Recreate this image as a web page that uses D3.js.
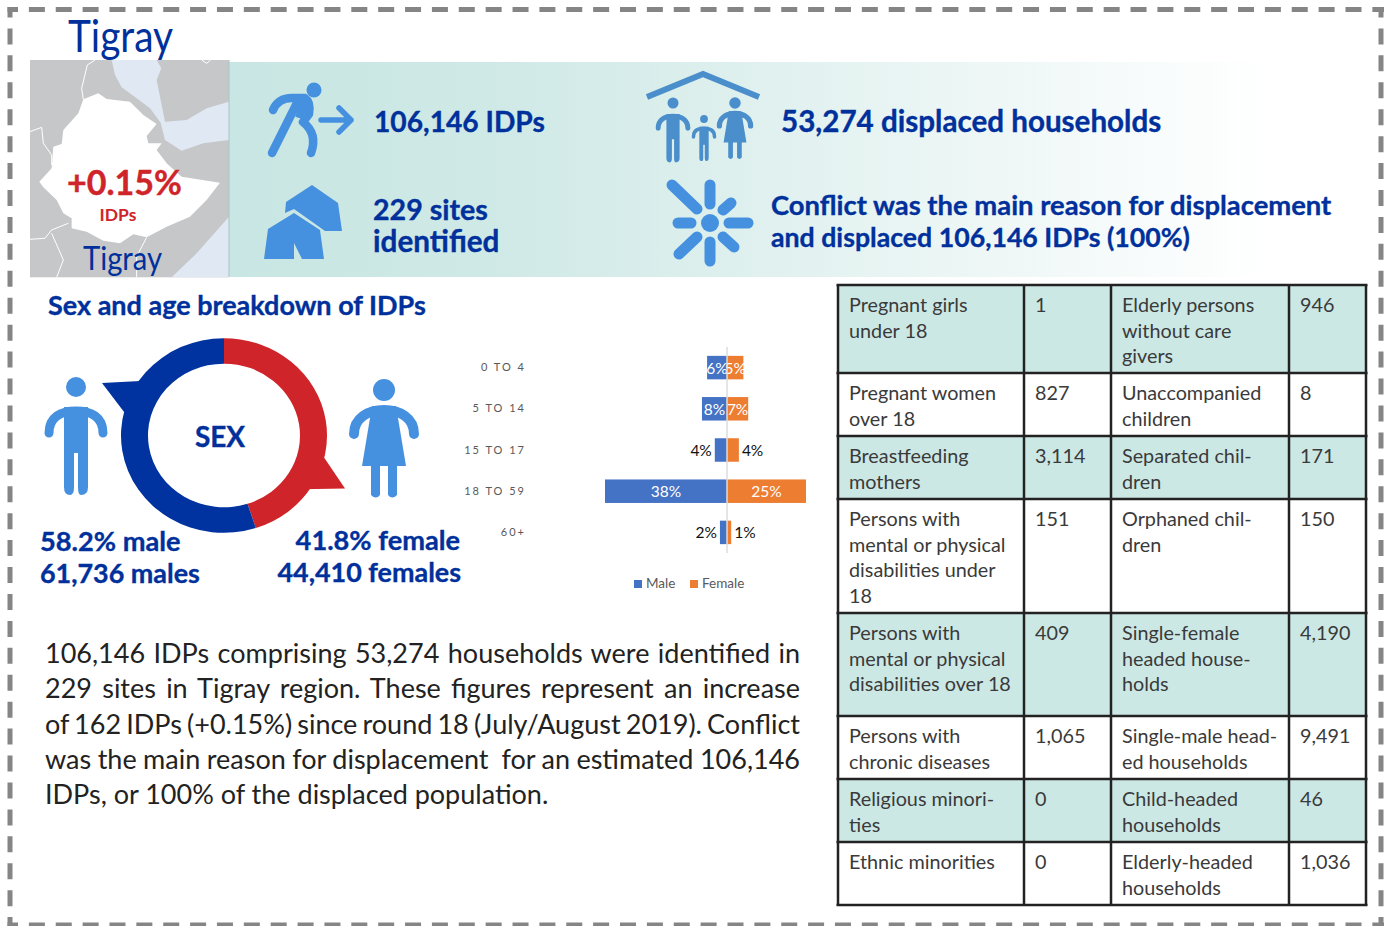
<!DOCTYPE html>
<html>
<head>
<meta charset="utf-8">
<title>Tigray</title>
<script src="https://cdn.jsdelivr.net/npm/d3@7"></script>
<style>
  body { margin: 0; background: #fff; }
  svg { display: block; }
  text { font-family: Lato, "Open Sans", sans-serif; }
  .head { fill: #00309b; font-weight: 700; stroke: #00309b; stroke-width: 0.35; }
</style>
</head>
<body>
<div id="graph"></div>
<script>
// age pyramid
const ageGroups = ['0 TO 4', '5 TO 14', '15 TO 17', '18 TO 59', '60+'];
const maleShare = [6.2, 7.8, 3.8, 38, 2.2];
const femaleShare = [5.1, 6.6, 3.7, 24.6, 1.3];

// ring as it is drawn (not quite the printed 58.2 / 41.8)
const ringLabels = ['female', 'male'];
const ringShare = [45, 55];
const ringColors = ['#cf242a', '#00339f'];

const paragraph = [
  '106,146 IDPs comprising 53,274 households were identified in',
  '229 sites in Tigray region. These figures represent an increase',
  'of 162 IDPs (+0.15%) since round 18 (July/August 2019). Conflict',
  'was the main reason for displacement  for an estimated 106,146',
  'IDPs, or 100% of the displaced population.'
];

const tableLeft = ['Pregnant girls\nunder 18', 'Pregnant women\nover 18', 'Breastfeeding\nmothers',
  'Persons with\nmental or physical\ndisabilities under\n18', 'Persons with\nmental or physical\ndisabilities over 18',
  'Persons with\nchronic diseases', 'Religious minori-\nties', 'Ethnic minorities'];
const tableLeftVal = ['1', '827', '3,114', '151', '409', '1,065', '0', '0'];
const tableRight = ['Elderly persons\nwithout care\ngivers', 'Unaccompanied\nchildren', 'Separated chil-\ndren',
  'Orphaned chil-\ndren', 'Single-female\nheaded house-\nholds', 'Single-male head-\ned households',
  'Child-headed\nhouseholds', 'Elderly-headed\nhouseholds'];
const tableRightVal = ['946', '8', '171', '150', '4,190', '9,491', '46', '1,036'];
const rowEdges = [285, 373, 436, 499, 613, 716, 779, 842, 905];
const colEdges = [838, 1024, 1111, 1289, 1366];

const navy = '#00309b', iconBlue = '#4591e0', famBlue = '#4a8ecb', red = '#cf242a';

const svg = d3.select('#graph').append('svg').attr('width', 1391).attr('height', 926);

drawBorder();
drawBand();
drawMap();
drawIcons();
drawHeadlines();
drawRing();
drawPyramid();
drawParagraph();
drawTable();

function drawBorder() {
  const across = [[7.5, 9.5, 1384, 9.5], [7.5, 925, 1384, 925]];
  const down = [[10, 7, 10, 926], [1381, 7, 1381, 926]];
  const edge = (data, dash) => svg.selectAll(null).data(data).enter().append('line')
    .attr('x1', d => d[0]).attr('y1', d => d[1]).attr('x2', d => d[2]).attr('y2', d => d[3])
    .attr('stroke', '#858585').attr('stroke-width', 5)
    .attr('stroke-dasharray', dash).attr('stroke-dashoffset', 5.5);
  edge(across, '16 10.87');
  edge(down, '16 10.93');
}

function drawBand() {
  const grad = svg.append('defs').append('linearGradient').attr('id', 'band');
  grad.append('stop').attr('offset', 0).attr('stop-color', '#c8e6e3');
  grad.append('stop').attr('offset', 0.25).attr('stop-color', '#cfe9e6');
  grad.append('stop').attr('offset', 1).attr('stop-color', '#ffffff');
  svg.append('rect').attr('x', 229).attr('y', 62).attr('width', 1040).attr('height', 215).attr('fill', 'url(#band)');
}

function drawMap() {
  const g = svg.append('g').attr('transform', 'scale(0.3333)');
  g.append('rect').attr('x', 90).attr('y', 180).attr('width', 597).attr('height', 652).attr('fill', '#c6c7c8');
  // red sea, gulf of aden, indian ocean
  g.append('path').attr('fill', '#e0e8f4')
    .attr('d', 'M335,180 L470,180 L484,205 L470,240 L482,300 L495,365 L560,360 L620,325 L687,305 L687,420 L610,430 L545,452 L495,420 L482,368 L450,325 L410,295 L365,262 L345,225 Z');
  g.append('path').attr('fill', '#e0e8f4').attr('d', 'M515,832 L590,760 L687,650 L687,832 Z');
  // ethiopia
  g.append('path').attr('fill', '#fff')
    .attr('d', 'M118,545 L155,505 L160,440 L185,432 L190,390 L235,340 L250,298 L295,280 L320,297 L390,305 L430,345 L470,372 L440,408 L445,430 L485,430 L470,450 L500,490 L545,530 L660,548 L620,600 L570,650 L500,680 L440,712 L400,703 L360,730 L310,722 L260,695 L215,685 L215,655 L190,640 L170,600 L130,562 Z');
  // borders
  const lines = ['M285,180 L262,195 L245,265 L250,298', 'M90,395 L125,382 L130,430 L155,465 L155,495',
    'M90,718 L135,715 L155,690 L205,670', 'M155,700 L190,780 L170,832', 'M440,712 L410,770 L410,832', 'M605,180 L620,190 L632,180'];
  g.selectAll('.border').data(lines).enter().append('path')
    .attr('d', d => d).attr('fill', 'none').attr('stroke', '#fff').attr('stroke-width', 3);
  svg.append('line').attr('x1', 229).attr('x2', 229).attr('y1', 60).attr('y2', 277).attr('stroke', '#a9c4c3').attr('stroke-width', 1);

  svg.append('text').attr('x', 68).attr('y', 52).attr('font-size', 44).attr('fill', navy)
    .attr('textLength', 105).attr('lengthAdjust', 'spacingAndGlyphs').text('Tigray');
  svg.append('text').attr('x', 67).attr('y', 195).attr('font-size', 34).attr('font-weight', 700)
    .attr('fill', red).attr('stroke', red).attr('stroke-width', 0.4).text('+0.15%');
  svg.append('text').attr('x', 118).attr('y', 221).attr('text-anchor', 'middle').attr('font-size', 17.5).attr('font-weight', 700).attr('fill', red).text('IDPs');
  svg.append('text').attr('x', 83).attr('y', 270).attr('font-size', 33).attr('fill', navy)
    .attr('textLength', 79).attr('lengthAdjust', 'spacingAndGlyphs').text('Tigray');
}

// both people are drawn around the middle of the head, then scaled
function person(x, y, k, color) {
  const g = svg.append('g').attr('transform', 'translate(' + x + ',' + y + ') scale(' + k + ')').attr('fill', color);
  g.append('circle').attr('r', 10);
  g.append('path').attr('fill', 'none').attr('stroke', color).attr('stroke-width', 9).attr('stroke-linecap', 'round')
    .attr('d', 'M-27,46 C-27,30 -15,24 0,24 C15,24 27,30 27,46');
  g.append('path').attr('d', 'M-12,20 L12,20 L12,100 Q12,108 5,108 Q2,108 2,100 L2,66 L-2,66 L-2,100 Q-2,108 -6,108 Q-12,108 -12,100 Z');
}

function woman(x, y, k, color) {
  const g = svg.append('g').attr('transform', 'translate(' + x + ',' + y + ') scale(' + k + ')').attr('fill', color);
  g.append('circle').attr('r', 11);
  g.append('path').attr('fill', 'none').attr('stroke', color).attr('stroke-width', 10).attr('stroke-linecap', 'round')
    .attr('d', 'M-30,44 C-30,28 -16,20 0,20 C16,20 30,28 30,44');
  g.append('path').attr('d', 'M-12,16 L12,16 L22,76 L-22,76 Z');
  g.append('path').attr('d', 'M-13,70 L-4,70 L-4,105 Q-8,110 -13,105 Z M4,70 L13,70 L13,105 Q8,110 4,105 Z');
}

function drawIcons() {
  // runner
  svg.append('circle').attr('cx', 314).attr('cy', 90).attr('r', 7.5).attr('fill', iconBlue);
  svg.append('path').attr('fill', 'none').attr('stroke', iconBlue).attr('stroke-width', 8.5).attr('stroke-linecap', 'round').attr('stroke-linejoin', 'round')
    .attr('d', 'M273,110 Q278,98 292,98 L305,98 Q311,102 309,114 L303,122 Q318,134 311,153 M298,101 L272,153');
  svg.append('path').attr('fill', 'none').attr('stroke', iconBlue).attr('stroke-width', 8).attr('d', 'M305,100 L299,118');
  svg.append('path').attr('fill', 'none').attr('stroke', iconBlue).attr('stroke-width', 5.5).attr('stroke-linecap', 'round').attr('stroke-linejoin', 'round')
    .attr('d', 'M321,120 L351,120 M339,108 L351,120 L339,132');

  // tents
  svg.append('path').attr('fill', iconBlue).attr('d', 'M264,259 L268,229 L294,213 L320,230 L324,259 L302,259 L294,243 L294,259 Z');
  svg.append('path').attr('fill', iconBlue).attr('d', 'M285,213 L286,202 L312,185 L338,203 L342,231 L325,231 L294,209 Z');

  // family under a roof
  svg.append('path').attr('fill', 'none').attr('stroke', famBlue).attr('stroke-width', 6)
    .attr('d', 'M647,97 L703,74 L759,97');
  person(673, 103, 0.55, famBlue);
  person(704, 119, 0.39, famBlue);
  woman(735, 103, 0.52, famBlue);

  // conflict burst
  const rays = [[672, 185, 697, 209, 11], [710, 185, 710, 204, 11], [731, 203, 723, 210, 11], [748, 223, 729, 223, 11],
    [734, 247, 723, 237, 11], [710, 261, 710, 242, 11], [679, 254, 697, 237, 11], [678, 223, 691, 223, 11]];
  svg.selectAll('.ray').data(rays).enter().append('line')
    .attr('x1', d => d[0]).attr('y1', d => d[1]).attr('x2', d => d[2]).attr('y2', d => d[3])
    .attr('stroke', iconBlue).attr('stroke-width', d => d[4]).attr('stroke-linecap', 'round');
  svg.append('circle').attr('cx', 710).attr('cy', 223).attr('r', 9).attr('fill', iconBlue);

  // people next to the ring
  person(76, 387, 1, iconBlue);
  woman(384, 390, 1, iconBlue);
}

function drawHeadlines() {
  const heads = [
    ['106,146 IDPs', 374, 132, 'start', 28.2],
    ['53,274 displaced households', 781, 132, 'start', 29.6],
    ['229 sites', 373, 220, 'start', 28.6],
    ['identified', 373, 252, 'start', 29.7],
    ['Conflict was the main reason for displacement', 771, 215, 'start', 27.4],
    ['and displaced 106,146 IDPs (100%)', 771, 247, 'start', 26.7],
    ['Sex and age breakdown of IDPs', 48, 315, 'start', 27],
    ['58.2% male', 40, 551, 'start', 27.2],
    ['61,736 males', 40, 583, 'start', 26.9],
    ['41.8% female', 460, 550, 'end', 27.2],
    ['44,410 females', 461, 582, 'end', 26.9]
  ];
  svg.selectAll('.head').data(heads).enter().append('text').attr('class', 'head')
    .attr('x', d => d[1]).attr('y', d => d[2]).attr('text-anchor', d => d[3]).attr('font-size', d => d[4]).text(d => d[0]);
}

function drawRing() {
  const g = svg.append('g').attr('transform', 'translate(224,435.5) scale(1,0.945)');
  const pie = d3.pie().sort(null);
  const arc = d3.arc().innerRadius(76).outerRadius(103);
  g.selectAll('path').data(pie(ringShare)).enter().append('path')
    .attr('d', arc).attr('fill', (d, i) => ringColors[i]).attr('class', (d, i) => 'ring-' + ringLabels[i]);
  // the pointers start inside the ring so no sliver shows
  svg.append('path').attr('fill', ringColors[1]).attr('d', 'M102,383 L150,380.5 L129,418.6 Z');
  svg.append('path').attr('fill', ringColors[0]).attr('d', 'M319,450 L345,488.5 L300,489.2 Z');
  svg.append('text').attr('x', 220).attr('y', 447).attr('text-anchor', 'middle').attr('font-size', 28).attr('font-weight', 700)
    .attr('fill', navy).attr('stroke', navy).attr('stroke-width', 0.35).text('SEX');
}

function drawPyramid() {
  const mid = 727;
  const x = d3.scaleLinear().domain([0, 38]).range([0, 122]);
  const y = d3.scaleBand().domain(ageGroups).range([347, 553]).paddingInner(0.43).paddingOuter(0.215);
  const pct = d3.format('.0f');
  const series = [
    { name: 'Male', values: maleShare, color: '#4472c4', dir: -1 },
    { name: 'Female', values: femaleShare, color: '#ed7d31', dir: 1 }
  ];

  series.forEach(s => {
    const g = svg.append('g');
    g.selectAll('rect').data(s.values).enter().append('rect')
      .attr('x', d => s.dir < 0 ? mid - x(d) : mid)
      .attr('y', (d, i) => y(ageGroups[i]))
      .attr('width', d => x(d))
      .attr('height', y.bandwidth())
      .attr('fill', s.color);
    g.selectAll('text').data(s.values).enter().append('text')
      .attr('x', d => d >= 5 ? mid + s.dir * x(d) / 2 : mid + s.dir * (x(d) + 3))
      .attr('y', (d, i) => y(ageGroups[i]) + y.bandwidth() / 2 + 6)
      .attr('text-anchor', d => d >= 5 ? 'middle' : (s.dir < 0 ? 'end' : 'start'))
      .attr('font-size', 15.5)
      .attr('fill', d => d >= 5 ? '#fff' : '#111')
      .text(d => pct(d) + '%');
  });

  svg.append('line').attr('x1', mid).attr('x2', mid).attr('y1', 347).attr('y2', 553).attr('stroke', '#dcdcdc').attr('stroke-width', 1.5);

  const axis = svg.append('g').attr('transform', 'translate(529,0)')
    .call(d3.axisLeft(y).tickSize(0).tickPadding(3));
  axis.select('.domain').remove();
  axis.selectAll('text').attr('font-family', 'Lato').attr('font-size', 11).attr('fill', '#595959').attr('letter-spacing', 2);

  const legend = svg.selectAll('.key').data(series).enter().append('g')
    .attr('transform', (d, i) => 'translate(' + (634 + i * 56) + ',580)');
  legend.append('rect').attr('width', 8).attr('height', 8).attr('fill', d => d.color);
  legend.append('text').attr('x', 12).attr('y', 8).attr('font-size', 13.5).attr('fill', '#595959').text(d => d.name);
}

function drawParagraph() {
  const lines = svg.selectAll('.para').data(paragraph).enter().append('text')
    .attr('x', 45).attr('y', (d, i) => 663 + i * 35.3)
    .attr('font-size', 27).attr('fill', '#222').attr('xml:space', 'preserve').style('white-space', 'pre')
    .text(d => d);
  // justify to the right edge, all but the last line
  lines.each(function(d, i) {
    if (i === paragraph.length - 1) return;
    const gaps = d.split(' ').length - 1;
    const spare = 755 - this.getComputedTextLength();
    d3.select(this).attr('word-spacing', spare / gaps);
  });
}

function drawTable() {
  const rows = svg.selectAll('.row').data(tableLeft).enter().append('g').attr('class', 'row');
  rows.append('rect').attr('x', colEdges[0]).attr('width', colEdges[4] - colEdges[0])
    .attr('y', (d, i) => rowEdges[i]).attr('height', (d, i) => rowEdges[i + 1] - rowEdges[i])
    .attr('fill', (d, i) => i % 2 ? '#fff' : '#cce8e5');

  const columns = [tableLeft, tableLeftVal, tableRight, tableRightVal];
  columns.forEach((col, c) => {
    col.forEach((cell, r) => {
      const t = svg.append('text').attr('font-size', 19.8).attr('fill', '#3a3a3a');
      cell.split('\n').forEach((line, l) => {
        t.append('tspan').attr('x', colEdges[c] + 11).attr('y', rowEdges[r] + 27 + l * 25.6).text(line);
      });
    });
  });

  svg.selectAll('.hline').data(rowEdges).enter().append('line')
    .attr('x1', colEdges[0] - 1.5).attr('x2', colEdges[4] + 1.5).attr('y1', d => d).attr('y2', d => d)
    .attr('stroke', '#222').attr('stroke-width', 2.5);
  svg.selectAll('.vline').data(colEdges).enter().append('line')
    .attr('x1', d => d).attr('x2', d => d).attr('y1', rowEdges[0]).attr('y2', rowEdges[8])
    .attr('stroke', '#222').attr('stroke-width', 2.5);
}
</script>
</body>
</html>
